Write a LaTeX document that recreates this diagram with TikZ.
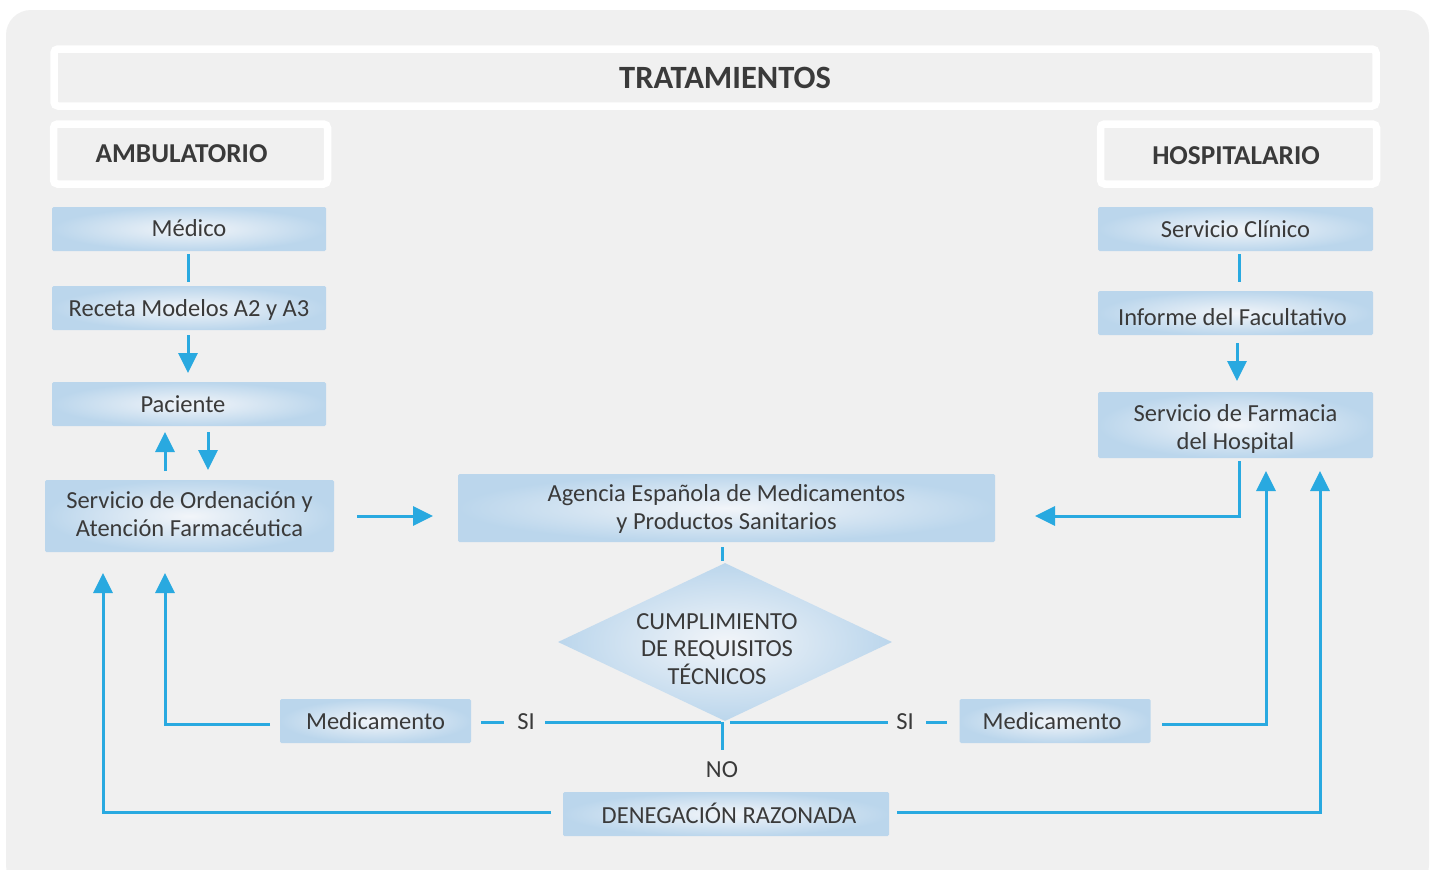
\documentclass[tikz,border=0pt]{standalone}
\usepackage{fontspec}
\setmainfont{Carlito}
\usetikzlibrary{arrows.meta,shapes.geometric}
\definecolor{bg}{HTML}{F0F0F0}
\definecolor{txt}{HTML}{3A3A3A}
\definecolor{lnk}{HTML}{29A9E0}
\definecolor{bxo}{HTML}{BBD6EC}
\definecolor{bxi}{HTML}{F2F5F9}
\newcommand{\twol}[3]{\raisebox{#1}[\height][\depth]{\begin{tabular}{@{}c@{}}#2\\#3\end{tabular}}}
\newcommand{\shft}[2]{\raisebox{#1}[\height][\depth]{#2}}
\tikzset{
  bx/.style={rectangle, rounded corners=1.5pt, shading=radial, inner color=bxi, outer color=bxo,
    text=txt, font=\fontsize{24.5}{28}\selectfont, align=center, inner sep=0pt},
  frm/.style={draw=white, line width=7.5pt, fill=bg, rounded corners=4pt, text=txt,
    font=\bfseries\fontsize{27.3}{30}\selectfont, inner sep=0pt},
  lnkline/.style={draw=lnk, line width=3pt},
  arr/.style={lnkline, -{Triangle[length=20pt,width=19pt]}},
  lbl/.style={text=txt, font=\fontsize{24.5}{28}\selectfont, inner sep=0pt}
}
\begin{document}
\begin{tikzpicture}[x=1pt,y=-1pt]
\useasboundingbox (0,0) rectangle (1430,870);
\begin{scope}
\clip (0,0) rectangle (1430,870);
\fill[white] (0,0) rectangle (1430,870);
\fill[bg, rounded corners=25pt] (6,10) rectangle (1429,890);
\end{scope}

% frames
\node[frm, minimum width=1322, minimum height=57] (trat) at (715,77.5) {\hspace*{20pt}\fontsize{32.5}{34}\selectfont TRATAMIENTOS};
\node[frm, minimum width=274, minimum height=60] (amb) at (190.5,154) {\hspace*{-18pt}AMBULATORIO};
\node[frm, minimum width=276, minimum height=60] (hosp) at (1238.5,154) {\hspace*{-5pt}\shft{-2pt}{HOSPITALARIO}};

% left column
\node[bx, minimum width=274, minimum height=44] (med) at (189,229) {\shft{1pt}{Médico}};
\node[bx, minimum width=274, minimum height=44] (rec) at (189,308) {\shft{-2pt}{Receta Modelos A2 y A3}};
\node[bx, minimum width=274, minimum height=44] (pac) at (189,404) {\hspace*{-12pt}Paciente};
\node[bx, minimum width=289, minimum height=72] (sof) at (189.5,516) {\twol{-1pt}{Servicio de Ordenación y}{Atención Farmacéutica}};

% right column
\node[bx, minimum width=275, minimum height=44] (scl) at (1235.5,229) {Servicio Clínico};
\node[bx, minimum width=275, minimum height=44] (inf) at (1235.5,313) {\hspace*{-6pt}\shft{-4pt}{Informe del Facultativo}};
\node[bx, minimum width=275, minimum height=66] (sfh) at (1235.5,425) {\twol{-5pt}{Servicio de Farmacia}{del Hospital}};

% centre
\node[bx, minimum width=537, minimum height=68] (aem) at (726.5,508) {\twol{-2pt}{Agencia Española de Medicamentos}{y Productos Sanitarios}};
\node[diamond, shading=radial, inner color=bxi, outer color=bxo, minimum width=334, minimum height=158, inner sep=0pt] (dec) at (725,642) {};
\node[lbl, align=center, font=\fontsize{24.5}{27.5}\selectfont] (dect) at (717,649) {CUMPLIMIENTO\\DE REQUISITOS\\TÉCNICOS};
\node[bx, minimum width=191, minimum height=44] (medl) at (375.5,721) {Medicamento};
\node[bx, minimum width=191, minimum height=44] (medr) at (1055,721) {\hspace*{-6pt}Medicamento};
\node[bx, minimum width=326, minimum height=44] (den) at (726,814) {\hspace*{6pt}\shft{1pt}{DENEGACIÓN RAZONADA}};

\node[lbl] (sil) at (526,722) {SI};
\node[lbl] (sir) at (905,722) {SI};
\node[lbl] (no) at (722,770) {NO};

% coordinates
\coordinate (a1) at (188,254); \coordinate (a2) at (188,282);
\coordinate (b1) at (188,335); \coordinate (b2) at (188,373);
\coordinate (c1) at (165,471); \coordinate (c2) at (165,432);
\coordinate (d1) at (208,432); \coordinate (d2) at (208,470);
\coordinate (e1) at (357,516); \coordinate (e2) at (433,516);
\coordinate (f1) at (1239,461); \coordinate (f2) at (1035,516);
\coordinate (g1) at (1239,254); \coordinate (g2) at (1239,282);
\coordinate (h1) at (1237,343); \coordinate (h2) at (1237,381);
\coordinate (k1) at (722,547); \coordinate (k2) at (722,561);
\coordinate (l1) at (545,722); \coordinate (l2) at (721,722);
\coordinate (m1) at (730,722); \coordinate (m2) at (888,722);
\coordinate (n1) at (481,722); \coordinate (n2) at (504,722);
\coordinate (o1) at (926,722); \coordinate (o2) at (947,722);
\coordinate (p1) at (722,722); \coordinate (p2) at (722,750);
\coordinate (q1) at (270,724); \coordinate (q2) at (165,573);
\coordinate (r1) at (551,812); \coordinate (r2) at (103,573);
\coordinate (s1) at (1162,724); \coordinate (s2) at (1266,471);
\coordinate (t1) at (897,812); \coordinate (t2) at (1320,471);

\draw[lnkline] (a1) -- (a2);
\draw[arr] (b1) -- (b2);
\draw[arr] (c1) -- (c2);
\draw[arr] (d1) -- (d2);
\draw[arr] (e1) -- (e2);
\draw[arr] (f1) |- (f2);
\draw[lnkline] (g1) -- (g2);
\draw[arr] (h1) -- (h2);
\draw[lnkline] (k1) -- (k2);
\draw[lnkline] (l1) -- (l2);
\draw[lnkline] (m1) -- (m2);
\draw[lnkline] (n1) -- (n2);
\draw[lnkline] (o1) -- (o2);
\draw[lnkline] (p1) -- (p2);
\draw[arr] (q1) -| (q2);
\draw[arr] (r1) -| (r2);
\draw[arr] (s1) -| (s2);
\draw[arr] (t1) -| (t2);
\end{tikzpicture}
\end{document}
